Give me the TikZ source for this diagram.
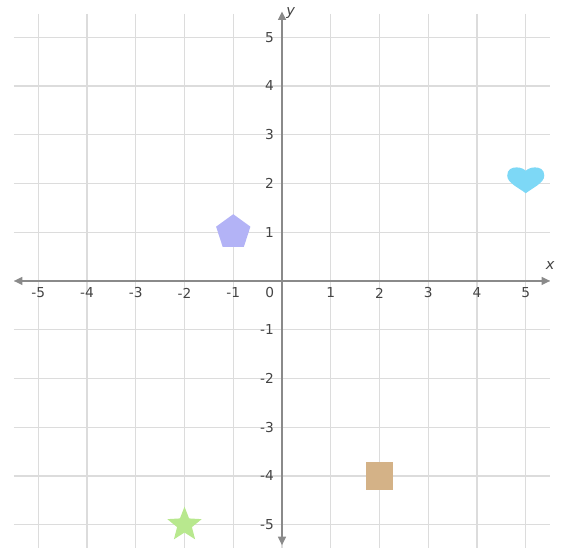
\documentclass[tikz,border=0pt]{standalone}
\usepackage{fontspec}
\setmainfont{DejaVu Sans}
\usetikzlibrary{arrows.meta}
\definecolor{gridc}{HTML}{DCDCDC}
\definecolor{axisc}{HTML}{8A8A8A}
\definecolor{labc}{HTML}{444444}
\definecolor{pentc}{HTML}{B3B3F6}
\definecolor{sqc}{HTML}{D4B287}
\definecolor{heartc}{HTML}{7DD8F6}
\definecolor{starc}{HTML}{B8E88E}
\begin{document}
\begin{tikzpicture}[x=1cm,y=1cm,
  gridline/.style={draw=gridc, line width=0.75pt},
  axis/.style={draw=axisc, line width=1.1pt, {Triangle[length=5pt,width=4.6pt]}-{Triangle[length=5pt,width=4.6pt]}},
  ticklab/.style={font=\fontsize{8}{9}\selectfont, text=labc, inner sep=0pt},
  axlab/.style={font=\fontsize{8.5}{10}\selectfont\itshape, text=labc, inner sep=0pt}]
\useasboundingbox (-5.785,-5.477) rectangle (5.723,5.764);
% grid
\foreach \i in {-5,...,5} {
  \draw[gridline] (\i,5.48) -- (\i,-5.6);
  \draw[gridline] (-5.5,\i) -- (5.5,\i);
}
% axes
\coordinate (xl) at (-5.5,0);
\coordinate (xr) at (5.5,0);
\coordinate (yt) at (0,5.53);
\coordinate (yb) at (0,-5.42);
\draw[axis] (xl) -- (xr);
\draw[axis] (yb) -- (yt);
% tick labels
\foreach \i in {-5,-4,-3,-2,-1,1,2,3,4,5} {
  \node[ticklab] (xt\i) at (\i,-0.245) {\i};
  \node[ticklab, anchor=east] (yt\i) at (-0.16,\i) {\i};
}
\node[ticklab] (zero) at (-0.25,-0.245) {0};
\node[axlab] (xlab) at (5.5,0.31) {x};
\node[axlab] (ylab) at (0.18,5.5) {y};
% pentagon
\fill[pentc] (-1,1) +(90:0.37) -- +(162:0.37) -- +(234:0.37) -- +(306:0.37) -- +(18:0.37) -- cycle;
% square
\fill[sqc] (2,-4) +(-0.285,-0.285) rectangle +(0.285,0.285);
% heart
\begin{scope}[shift={(5,2)}]
\fill[heartc] (0,-0.20)
  .. controls (0.14,-0.09) and (0.38,0.01) .. (0.38,0.16)
  .. controls (0.38,0.29) and (0.29,0.33) .. (0.19,0.33)
  .. controls (0.09,0.33) and (0.03,0.29) .. (0,0.26)
  .. controls (-0.03,0.29) and (-0.09,0.33) .. (-0.19,0.33)
  .. controls (-0.29,0.33) and (-0.38,0.29) .. (-0.38,0.16)
  .. controls (-0.38,0.01) and (-0.14,-0.09) .. cycle;
\end{scope}
% star
\fill[starc] (-2,-5) +(90:0.37) -- +(126:0.16) -- +(162:0.37) -- +(198:0.16) -- +(234:0.37)
  -- +(270:0.16) -- +(306:0.37) -- +(342:0.16) -- +(18:0.37) -- +(54:0.16) -- cycle;
\end{tikzpicture}
\end{document}
